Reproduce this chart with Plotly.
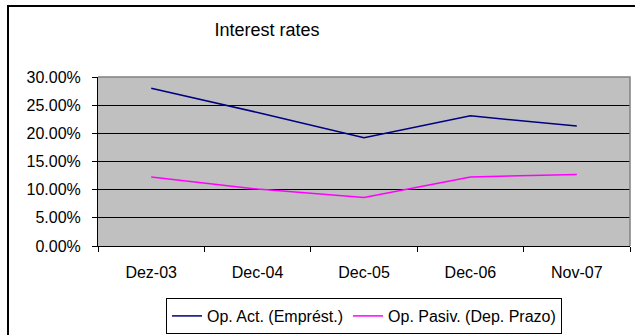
import plotly.graph_objects as go

categories = ["Dez-03", "Dec-04", "Dec-05", "Dec-06", "Nov-07"]
op_act = [0.280, 0.237, 0.192, 0.231, 0.213]
op_pasiv = [0.1225, 0.101, 0.086, 0.1225, 0.127]
series_names = ["Op. Act. (Emprést.)", "Op. Pasiv. (Dep. Prazo)"]
y_ticks = [0, 0.05, 0.10, 0.15, 0.20, 0.25, 0.30]

FONT = "Liberation Sans, Arial, sans-serif"

fig = go.Figure()
fig.add_trace(go.Scatter(x=categories, y=op_act, mode="lines", name=series_names[0],
                         line=dict(color="#000080", width=1.5)))
fig.add_trace(go.Scatter(x=categories, y=op_pasiv, mode="lines", name=series_names[1],
                         line=dict(color="#FF00FF", width=1.5)))

fig.update_layout(
    width=635, height=335,
    margin=dict(l=98, r=5, t=77, b=89, autoexpand=False),
    paper_bgcolor="white",
    plot_bgcolor="#C0C0C0",
    font=dict(family=FONT, size=16, color="black"),
    title=dict(text="Interest rates", x=267/635, xanchor="center",
               y=1 - 30/335, yanchor="middle",
               font=dict(family=FONT, size=18, color="black")),
    showlegend=True,
    legend=dict(orientation="h", x=0.5, xanchor="center", y=(246-298)/169, yanchor="top",
                bgcolor="white", bordercolor="black", borderwidth=1,
                font=dict(family=FONT, size=16), itemwidth=30,
                tracegroupgap=0),
    xaxis=dict(type="category", range=[-0.5, 4.5], tickson="boundaries",
               ticks="outside", ticklen=5, tickcolor="black",
               ticklabelstandoff=12,
               showline=True, linecolor="black", linewidth=1,
               showgrid=False, zeroline=False, fixedrange=True),
    yaxis=dict(range=[0, 0.30], tickvals=y_ticks, tickformat=".2%",
               ticks="outside", ticklen=5, tickcolor="black",
               ticklabelstandoff=8,
               showline=True, linecolor="black", linewidth=1,
               showgrid=True, gridcolor="black", gridwidth=1,
               zeroline=False, fixedrange=True),
)

# plot-area border (top and right, gray)
fig.add_shape(type="path", xref="paper", yref="paper",
              path="M 0,1 L 1,1 L 1,0", line=dict(color="#808080", width=1.5))
# outer chart border (cropped on right and bottom)
fig.add_shape(type="rect", xref="paper", yref="paper",
              x0=(8-98)/532, x1=(645-98)/532, y0=(246-345)/169, y1=(246-6)/169,
              line=dict(color="black", width=2), fillcolor="rgba(0,0,0,0)")

fig.write_html("out.html")
